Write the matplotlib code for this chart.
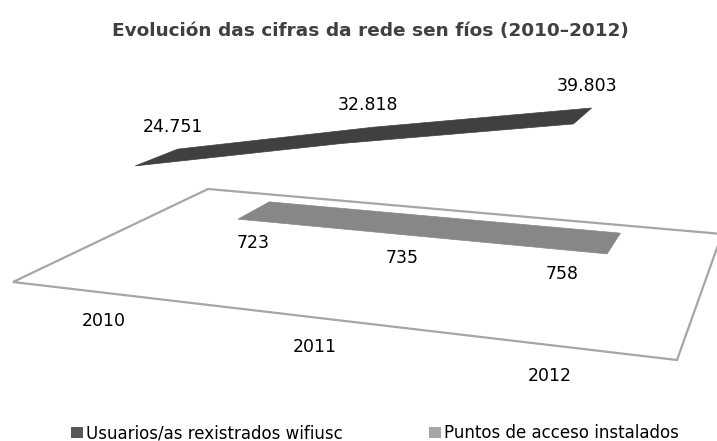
import numpy as np
import matplotlib
matplotlib.use("Agg")
import matplotlib.pyplot as plt
from matplotlib.patches import Polygon, Patch

years = ["2010", "2011", "2012"]
usuarios = [24751, 32818, 39803]
puntos = [723, 735, 758]
series_names = ["Usuarios/as rexistrados wifiusc", "Puntos de acceso instalados"]

# perspective: floor corners (u, v) -> pixel, plus the vertical column
FLOOR_UV = [(0, 0), (3, 0), (3, 2), (0, 2)]
FLOOR_PX = [(13, 282), (677, 360), (722, 234), (208, 189)]
ZCOL = np.array([-9.77196442e-02, -4.70737726e+00, -6.23848658e-04])
ROWS = [(0.238, 0.650), (1.35, 1.77)]


def fit_floor(src, dst):
    A, b = [], []
    for (u, v), (X, Y) in zip(src, dst):
        A.append([u, v, 1, 0, 0, 0, -u * X, -v * X]); b.append(X)
        A.append([0, 0, 0, u, v, 1, -u * Y, -v * Y]); b.append(Y)
    h = np.linalg.solve(np.array(A, float), np.array(b, float))
    return np.append(h, 1).reshape(3, 3)


H = fit_floor(FLOOR_UV, FLOOR_PX)


def proj(u, v, value):
    w = H @ np.array([u, v, 1.0]) + ZCOL * (value / 1000.0)
    return w[0] / w[2], w[1] / w[2]


def fmt(v):
    return f"{v:,}".replace(",", ".")


fig = plt.figure(figsize=(7.17, 4.41), dpi=100)
ax = fig.add_axes([0, 0, 1, 1])
ax.set_xlim(0, 717)
ax.set_ylim(441, 0)
ax.axis("off")

floor = [proj(u, v, 0) for u, v in FLOOR_UV]
ax.add_patch(Polygon(floor, closed=True, facecolor="white", edgecolor="#a6a6a6", lw=1.6, zorder=1))

xs = np.arange(len(years)) + 0.5
colors = ["#404040", "#878787"]
for k, vals in enumerate([usuarios, puntos]):
    v0, v1 = ROWS[k]
    front = [proj(u, v0, z) for u, z in zip(xs, vals)]
    back = [proj(u, v1, z) for u, z in zip(xs, vals)]
    ax.add_patch(Polygon(front + back[::-1], closed=True, facecolor=colors[k],
                         edgecolor=colors[k], lw=0.5, zorder=2 + (1 - k)))

lab = dict(ha="center", va="center", fontsize=12.5, color="black", family="DejaVu Sans")
for u, z in zip(xs, usuarios):
    x, y = proj(u, ROWS[0][1], z)
    ax.text(x - 5, y - 22, fmt(z), zorder=5, **lab)
for u, z in zip(xs, puntos):
    x, y = proj(1.57 + 0.79 * (u - 1.5), 0.93, z)
    ax.text(x, y, fmt(z), zorder=5, **lab)
for u, t in zip(xs, years):
    x, y = proj(0.675 + 0.947 * (u - 0.5), -0.34, 0)
    ax.text(x, y, t, zorder=5, **lab)

fig.text(0.516, 0.93, "Evolución das cifras da rede sen fíos (2010–2012)", ha="center", va="center",
         fontsize=13.3, fontweight="bold", color="#404040", family="DejaVu Sans")

handles = [Patch(facecolor="#595959"), Patch(facecolor="#a6a6a6")]
fig.legend(handles, series_names, loc="lower center", bbox_to_anchor=(0.523, -0.037), ncol=2,
           frameon=False, handlelength=0.7, handleheight=0.7, handletextpad=0.2,
           columnspacing=5.2, prop={"family": "DejaVu Sans", "size": 12})

fig.savefig("out.png")
